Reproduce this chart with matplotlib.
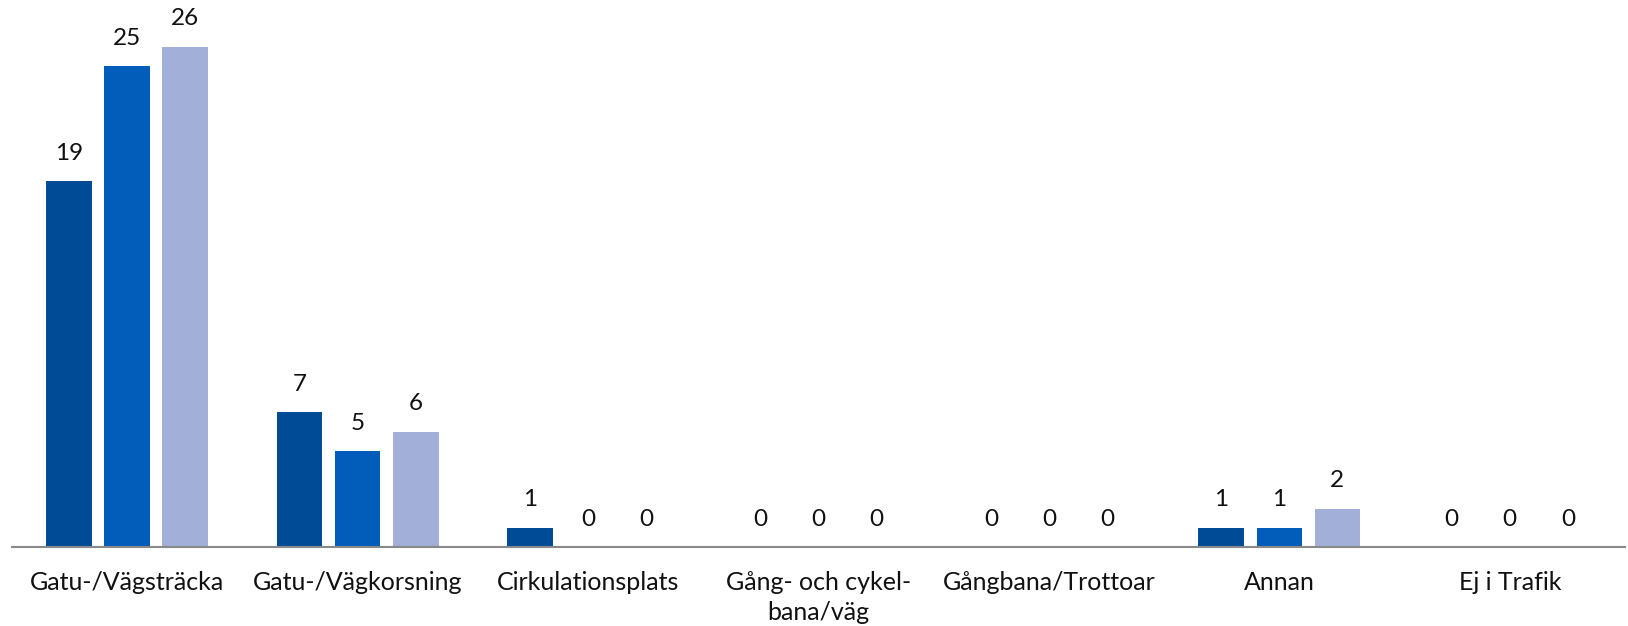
import numpy as np
import matplotlib.pyplot as plt

categories = ['Gatu-/Vägsträcka', 'Gatu-/Vägkorsning', 'Cirkulationsplats',
              'Gång- och cykel-\nbana/väg', 'Gångbana/Trottoar', 'Annan', 'Ej i Trafik']
serie1 = [19, 7, 1, 0, 0, 1, 0]
serie2 = [25, 5, 0, 0, 0, 1, 0]
serie3 = [26, 6, 0, 0, 0, 2, 0]
colors = ['#004B96', '#015CBA', '#A2B0D9']

plt.rcParams['font.family'] = ['Lato', 'DejaVu Sans']

fig = plt.figure(figsize=(16.28, 6.26), dpi=100)
ax = fig.add_axes([12/1628, 79/626, 1613/1628, 547/626])

x = np.arange(len(categories))
w = 0.198
step = 0.252
for i, (vals, c) in enumerate(zip([serie1, serie2, serie3], colors)):
    pos = x + (i - 1) * step
    ax.bar(pos, vals, width=w, color=c)
    for p, v in zip(pos, vals):
        ax.annotate(str(v), (p, v), xytext=(0, 20), textcoords='offset points',
                    ha='center', va='center', fontsize=17.5, color='#111111')

ax.set_xlim(-0.5, len(categories) - 0.5)
ax.set_ylim(0, 28.43)
ax.set_xticks(x)
ax.set_xticklabels(categories, fontsize=18, color='#111111', linespacing=1.4)
ax.tick_params(axis='x', length=0, pad=17)
ax.set_yticks([])
for s in ['top', 'right', 'left']:
    ax.spines[s].set_visible(False)
ax.spines['bottom'].set_color('#898989')
ax.spines['bottom'].set_linewidth(1.5)

fig.savefig('out.png', dpi=100)
